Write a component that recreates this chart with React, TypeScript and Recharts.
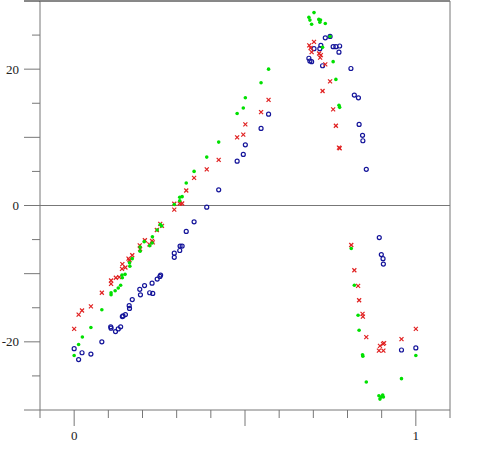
import React from 'react'
import { ReferenceLine, Scatter, ScatterChart, XAxis, YAxis } from 'recharts'

// [x, y] pairs
const bluePoints: [number, number][] = [
  [0.0, -21.0], [0.013, -22.6], [0.023, -21.6], [0.049, -21.8], [0.081, -20.0],
  [0.107, -17.8], [0.108, -18.0], [0.121, -18.5], [0.129, -18.1], [0.136, -17.8],
  [0.141, -16.3], [0.143, -16.2], [0.15, -16.0], [0.161, -14.7], [0.162, -15.1],
  [0.17, -13.8], [0.192, -12.3], [0.194, -13.1], [0.206, -11.75], [0.221, -12.8],
  [0.228, -11.4], [0.23, -12.9], [0.243, -10.8], [0.251, -10.4], [0.253, -10.2],
  [0.293, -7.0], [0.293, -7.6], [0.309, -6.6], [0.31, -5.95], [0.316, -5.95],
  [0.328, -3.8], [0.351, -2.4], [0.388, -0.24], [0.423, 2.3], [0.477, 6.5],
  [0.495, 7.5], [0.501, 8.9], [0.547, 11.3], [0.569, 13.4], [0.687, 21.6],
  [0.69, 21.2], [0.695, 21.1], [0.702, 23.0], [0.719, 23.0], [0.722, 23.5],
  [0.727, 20.5], [0.735, 24.6], [0.749, 24.8], [0.758, 23.3], [0.766, 23.3],
  [0.775, 22.5], [0.777, 23.4], [0.81, 20.1], [0.82, 16.2], [0.832, 15.8],
  [0.834, 11.9], [0.844, 10.3], [0.845, 9.5], [0.855, 5.3], [0.893, -4.7],
  [0.899, -7.2], [0.904, -7.8], [0.905, -8.6], [0.958, -21.2], [1.0, -20.9],
]

const redPoints: [number, number][] = [
  [0.0, -18.1], [0.013, -16.0], [0.023, -15.4], [0.049, -14.8], [0.081, -12.8],
  [0.108, -11.0], [0.108, -11.5], [0.122, -10.6], [0.132, -10.5], [0.14, -9.3],
  [0.141, -8.6], [0.15, -9.1], [0.159, -7.8], [0.162, -8.0], [0.17, -7.3],
  [0.192, -5.85], [0.193, -6.4], [0.207, -5.1], [0.22, -5.7], [0.228, -5.2],
  [0.23, -5.4], [0.242, -3.6], [0.252, -2.7], [0.257, -3.0], [0.293, 0.25],
  [0.293, -0.6], [0.309, 0.3], [0.316, 0.3], [0.328, 2.2], [0.351, 4.05],
  [0.388, 5.3], [0.423, 6.7], [0.477, 10.0], [0.495, 10.4], [0.501, 11.9],
  [0.547, 13.7], [0.569, 15.5], [0.688, 23.5], [0.692, 23.1], [0.695, 22.5],
  [0.702, 24.0], [0.717, 22.3], [0.72, 21.7], [0.722, 22.05], [0.727, 16.8],
  [0.735, 20.7], [0.749, 18.2], [0.758, 14.1], [0.766, 11.7], [0.775, 8.5],
  [0.777, 8.4], [0.811, -5.8], [0.82, -9.5], [0.831, -11.8], [0.834, -13.9],
  [0.844, -15.9], [0.845, -16.3], [0.855, -19.3], [0.892, -21.3], [0.895, -20.6],
  [0.904, -20.3], [0.905, -21.3], [0.907, -20.2], [0.958, -19.6], [1.0, -18.1],
]

const greenPoints: [number, number][] = [
  [0.0, -22.0], [0.013, -20.4], [0.024, -19.3], [0.049, -17.9], [0.081, -15.3],
  [0.108, -12.8], [0.108, -13.1], [0.12, -12.5], [0.129, -12.1], [0.136, -11.7],
  [0.14, -10.2], [0.141, -10.6], [0.149, -10.1], [0.162, -8.4], [0.163, -8.9],
  [0.17, -7.8], [0.193, -6.1], [0.193, -6.7], [0.205, -5.3], [0.221, -5.9],
  [0.229, -4.6], [0.228, -5.5], [0.243, -3.6], [0.252, -2.8], [0.256, -3.0],
  [0.293, 0.15], [0.309, 0.7], [0.309, 1.2], [0.316, 1.3], [0.328, 3.3],
  [0.351, 5.0], [0.388, 7.1], [0.423, 9.3], [0.477, 13.5], [0.495, 14.3],
  [0.501, 15.8], [0.547, 18.0], [0.569, 20.0], [0.687, 27.6], [0.69, 27.2],
  [0.695, 26.6], [0.702, 28.3], [0.716, 27.3], [0.719, 26.9], [0.721, 27.2],
  [0.727, 23.2], [0.735, 26.7], [0.749, 24.8], [0.758, 21.1], [0.766, 18.5],
  [0.775, 14.7], [0.777, 14.4], [0.811, -6.3], [0.82, -11.7], [0.831, -16.1],
  [0.834, -18.3], [0.844, -21.9], [0.845, -22.1], [0.855, -25.9], [0.892, -27.9],
  [0.895, -28.4], [0.898, -28.1], [0.903, -27.8], [0.905, -28.1], [0.958, -25.4],
  [1.0, -22.0],
]

const xTicks = [-0.1, 0, 0.1, 0.2, 0.3, 0.4, 0.5, 0.6, 0.7, 0.8, 0.9, 1, 1.1]
const xLabels = [0, 1]
const yTicks = [-30, -25, -20, -15, -10, -5, 0, 5, 10, 15, 20, 25, 30]
const yLabels = [-20, 0, 20]

const AXIS = '#777'
const FONT = "'Liberation Serif', 'Times New Roman', serif"

const toRows = (pts: [number, number][]) => pts.map(([x, y]) => ({ x, y }))

const XTick = (props: any) => {
  const { x, y, payload } = props
  const v = payload.value
  const major = Math.abs(v * 2 - Math.round(v * 2)) < 1e-6
  const len = major ? 16 : 8
  return (
    <g>
      <line x1={x} y1={y} x2={x} y2={y + len} stroke={AXIS} />
      {xLabels.some(l => Math.abs(l - v) < 1e-6) && (
        <text x={x} y={y + 30} textAnchor="middle" fontSize={13} style={{ fontFamily: FONT }} fill="#222">
          {Math.round(v)}
        </text>
      )}
    </g>
  )
}

const YTick = (props: any) => {
  const { x, y, payload } = props
  const v = payload.value
  const len = v % 10 === 0 ? 16 : 8
  return (
    <g>
      <line x1={x - len} y1={y} x2={x} y2={y} stroke={v === 30 ? '#111' : AXIS} />
      {yLabels.includes(v) && (
        <text x={x - 21} y={y + 4.5} textAnchor="end" fontSize={13} style={{ fontFamily: FONT }} fill="#222">
          {v}
        </text>
      )}
    </g>
  )
}

const Dot = (props: any) => <circle cx={props.cx} cy={props.cy} r={1.8} fill="#00e000" />

const Ring = (props: any) => (
  <circle cx={props.cx} cy={props.cy} r={2} fill="none" stroke="#14149a" strokeWidth={1.2} />
)

const Cross = (props: any) => {
  const { cx, cy } = props
  const s = 2
  return (
    <g stroke="#e02020" strokeWidth={1.2}>
      <line x1={cx - s} y1={cy - s} x2={cx + s} y2={cy + s} />
      <line x1={cx - s} y1={cy + s} x2={cx + s} y2={cy - s} />
    </g>
  )
}

const App = () => {
  return (
    <div style={{ position: 'absolute', left: 0, top: 0 }}>
      <ScatterChart width={491} height={451} margin={{ top: 1, right: 41, bottom: 0, left: 0 }}>
        <XAxis
          type="number"
          dataKey="x"
          domain={[-0.1, 1.1]}
          ticks={xTicks}
          interval={0}
          height={41}
          tickSize={0}
          tickMargin={0}
          tickLine={false}
          axisLine={{ stroke: AXIS }}
          tick={<XTick />}
          allowDataOverflow
        />
        <YAxis
          type="number"
          dataKey="y"
          domain={[-30, 30]}
          ticks={yTicks}
          interval={0}
          width={40}
          tickSize={0}
          tickMargin={0}
          tickLine={false}
          axisLine={{ stroke: AXIS }}
          tick={<YTick />}
          allowDataOverflow
        />
        <ReferenceLine y={0} stroke={AXIS} />
        <ReferenceLine y={30} stroke="#111" />
        <ReferenceLine x={1.1} stroke={AXIS} />
        <Scatter data={toRows(bluePoints)} shape={<Ring />} isAnimationActive={false} />
        <Scatter data={toRows(redPoints)} shape={<Cross />} isAnimationActive={false} />
        <Scatter data={toRows(greenPoints)} shape={<Dot />} isAnimationActive={false} />
      </ScatterChart>
    </div>
  )
}

export default App
